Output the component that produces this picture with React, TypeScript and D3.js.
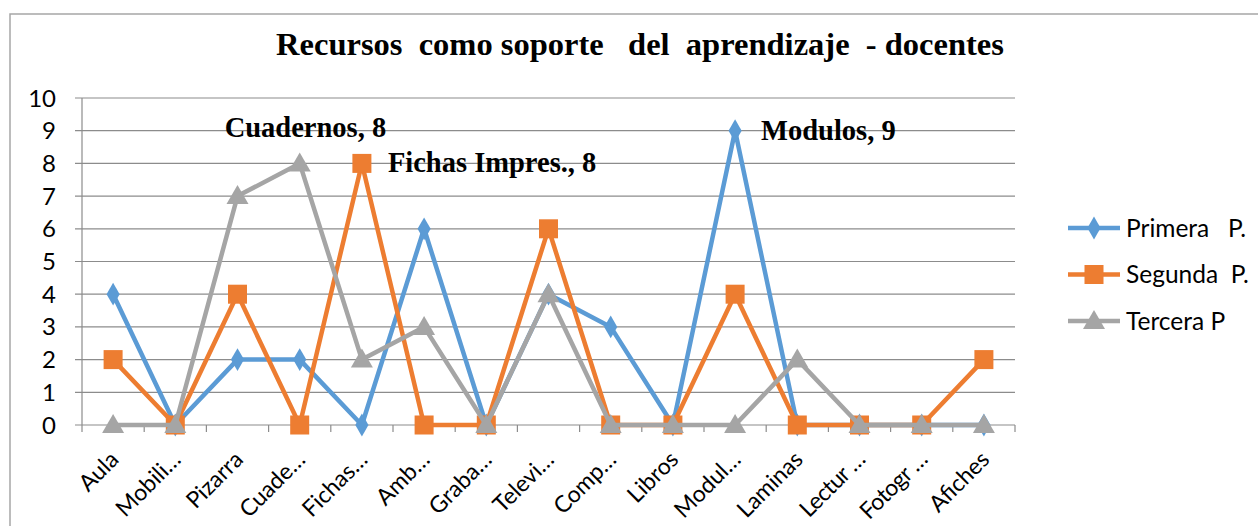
import React from "react";
import * as d3 from "d3";

const categories = [
  "Aula", "Mobili…", "Pizarra", "Cuade…", "Fichas…", "Amb…", "Graba…",
  "Televi…", "Comp…", "Libros", "Modul…", "Laminas", "Lectur …", "Fotogr …", "Afiches",
];
const primera = [4, 0, 2, 2, 0, 6, 0, 4, 3, 0, 9, 0, 0, 0, 0];
const segunda = [2, 0, 4, 0, 8, 0, 0, 6, 0, 0, 4, 0, 0, 0, 2];
const tercera = [0, 0, 7, 8, 2, 3, 0, 4, 0, 0, 0, 2, 0, 0, 0];
const yTicks = [0, 1, 2, 3, 4, 5, 6, 7, 8, 9, 10];
const seriesNames = ["Primera   P.", "Segunda  P.", "Tercera P"];
const callouts = [
  { text: "Cuadernos, 8", series: 2, index: 3 },
  { text: "Fichas Impres., 8", series: 1, index: 4 },
  { text: "Modulos, 9", series: 0, index: 10 },
];

const W = 1258;
const H = 526;
const margin = { left: 82, right: 243, top: 98, bottom: 101 };
const colors = ["#5b9bd5", "#ed7d31", "#a5a5a5"];
const serif = "'Liberation Serif', 'Times New Roman', serif";
const sans = "Lato, 'Noto Sans', sans-serif";

function Marker({ kind, x, y, color }: { kind: number; x: number; y: number; color: string }) {
  if (kind === 0) {
    const s = d3.symbol(d3.symbolDiamond, 150)();
    return <path d={s || ""} transform={`translate(${x},${y})`} fill={color} />;
  }
  if (kind === 1) {
    return <rect x={x - 9.5} y={y - 9.5} width={19} height={19} fill={color} />;
  }
  return <path d={`M${x},${y - 11}L${x + 11},${y + 8}L${x - 11},${y + 8}Z`} fill={color} />;
}

export default function App() {
  const data = [primera, segunda, tercera];
  const x = d3
    .scaleBand<string>()
    .domain(categories.map((c, i) => String(i)))
    .range([margin.left, W - margin.right]);
  const y = d3.scaleLinear().domain([0, 10]).range([H - margin.bottom, margin.top]);
  const cx = (i: number) => (x(String(i)) as number) + x.bandwidth() / 2;
  const line = d3
    .line<number>()
    .x((_, i) => cx(i))
    .y((d) => y(d));
  const x0 = margin.left;
  const x1 = W - margin.right;

  return (
    <svg
      width={W}
      height={H}
      style={{ position: "absolute", left: 0, top: 0, background: "#fff" }}
    >
      <rect x={10} y={14} width={W} height={H} fill="none" stroke="#a6a6a6" strokeWidth={1.5} />
      <text
        x={640}
        y={55}
        textAnchor="middle"
        fontFamily={serif}
        fontWeight="bold"
        fontSize={32.5}
        style={{ whiteSpace: "pre" }}
      >
        {"Recursos  como soporte   del  aprendizaje  - docentes"}
      </text>

      {yTicks.map((t) => (
        <g key={t}>
          <line x1={x0 - 7} x2={x1} y1={y(t)} y2={y(t)} stroke="#8c8c8c" strokeWidth={1.2} />
          <text x={56} y={y(t) + 8.5} textAnchor="end" fontFamily={sans} fontSize={24}>
            {t}
          </text>
        </g>
      ))}
      <line x1={x0} x2={x0} y1={y(10)} y2={y(0)} stroke="#8c8c8c" strokeWidth={1.2} />
      {d3.range(categories.length + 1).map((i) => {
        const tx = x0 + i * x.bandwidth();
        return <line key={i} x1={tx} x2={tx} y1={y(0)} y2={y(0) + 7} stroke="#8c8c8c" strokeWidth={1.2} />;
      })}
      {categories.map((c, i) => (
        <text
          key={c}
          transform={`translate(${cx(i) + 7},${y(0) + 36}) rotate(-45)`}
          textAnchor="end"
          fontFamily={sans}
          fontSize={23}
          letterSpacing={c.includes(" ") ? -0.6 : 0}
          style={{ whiteSpace: "pre" }}
        >
          {c}
        </text>
      ))}

      {data.map((s, k) => (
        <g key={k}>
          <path d={line(s) || ""} fill="none" stroke={colors[k]} strokeWidth={4.5} strokeLinejoin="round" />
          {s.map((v, i) => (
            <Marker key={i} kind={k} x={cx(i)} y={y(v)} color={colors[k]} />
          ))}
        </g>
      ))}

      {callouts.map((c) => {
        const v = data[c.series][c.index];
        const px = cx(c.index);
        const py = y(v);
        const off = c.series === 2 ? { dx: -75, dy: -26 } : { dx: 26, dy: 9 };
        return (
          <text
            key={c.text}
            x={px + off.dx}
            y={py + off.dy}
            fontFamily={serif}
            fontWeight="bold"
            fontSize={28.5}
          >
            {c.text}
          </text>
        );
      })}

      {seriesNames.map((n, k) => {
        const ly = 228 + k * 46.5;
        return (
          <g key={n}>
            <line x1={1068} x2={1120} y1={ly} y2={ly} stroke={colors[k]} strokeWidth={4.5} />
            <Marker kind={k} x={1094} y={ly} color={colors[k]} />
            <text x={1126} y={ly + 8.5} fontFamily={sans} fontSize={24.5} style={{ whiteSpace: "pre" }}>
              {n}
            </text>
          </g>
        );
      })}
    </svg>
  );
}
